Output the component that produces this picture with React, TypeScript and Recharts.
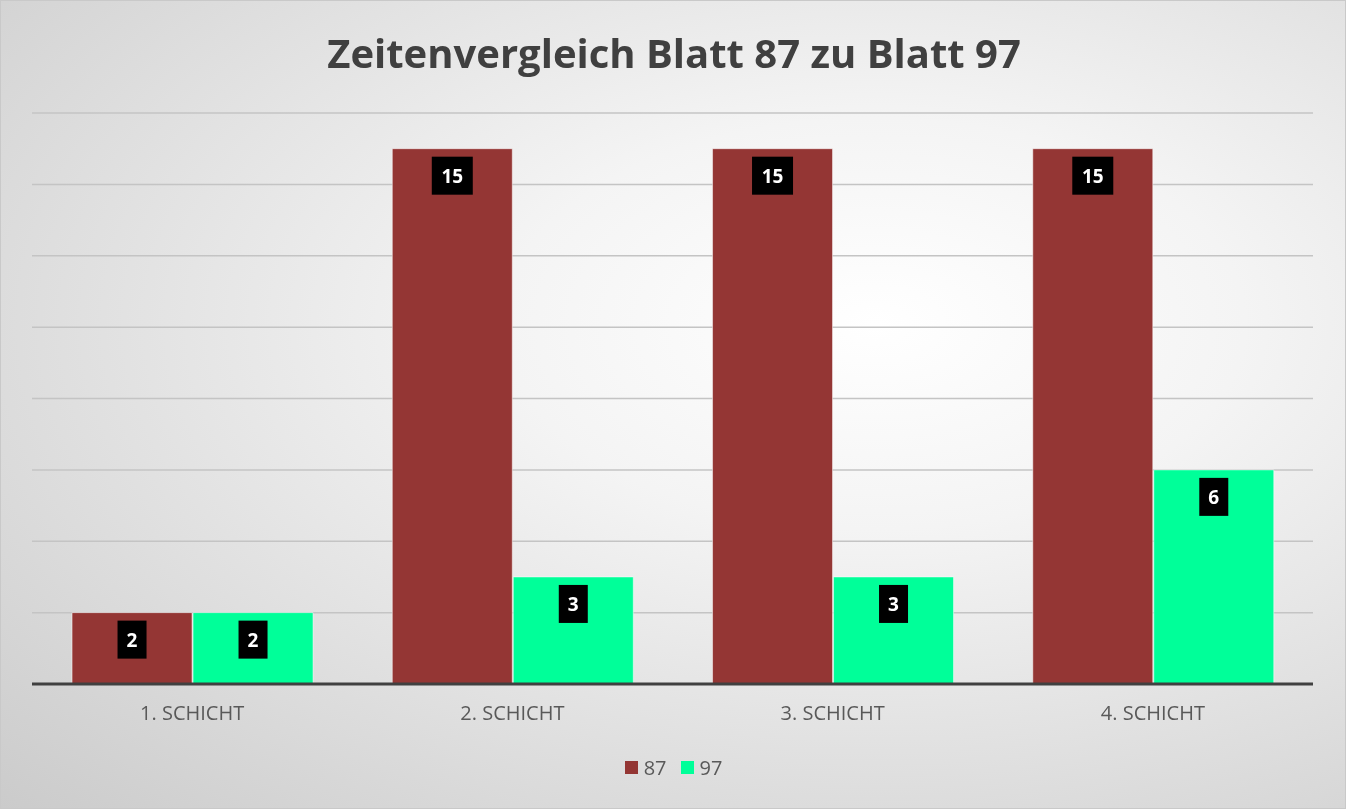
import { BarChart, Bar, XAxis, YAxis, CartesianGrid, Legend, LabelList } from "recharts"

const categories = ["1. SCHICHT", "2. SCHICHT", "3. SCHICHT", "4. SCHICHT"]
const blatt87 = [2, 15, 15, 15]
const blatt97 = [2, 3, 3, 6]
const yTicks = [0, 2, 4, 6, 8, 10, 12, 14, 16]

const data = categories.map((name, i) => ({ name, b87: blatt87[i], b97: blatt97[i] }))

const RED = "#943634"
const GREEN = "#00FF99"
const FONT = "'Open Sans', sans-serif"

const BoxLabel = (props: any) => {
  const { x, y, width, value } = props
  const text = String(value)
  const w = text.length > 1 ? 41 : 29
  const cx = x + width / 2
  const top = y + 8
  return (
    <g>
      <rect x={cx - w / 2} y={top} width={w} height={38} fill="#000" />
      <text x={cx} y={top + 26} textAnchor="middle" fill="#fff" fontFamily={FONT} fontWeight={700} fontSize={19}>
        {text}
      </text>
    </g>
  )
}

const LegendContent = () => (
  <div style={{ display: "flex", justifyContent: "center", gap: 14, fontFamily: FONT, fontSize: 20, color: "#595959", marginLeft: 2 }}>
    {[
      { label: "87", color: RED },
      { label: "97", color: GREEN },
    ].map((it) => (
      <div key={it.label} style={{ display: "flex", alignItems: "center", gap: 6 }}>
        <span style={{ width: 13, height: 13, background: it.color, display: "inline-block" }} />
        <span>{it.label}</span>
      </div>
    ))}
  </div>
)

export default function App() {
  return (
    <div
      style={{
        position: "fixed",
        left: 0,
        top: 0,
        width: 1346,
        height: 809,
        boxSizing: "border-box",
        border: "1px solid #c9c9c9",
        background: "radial-gradient(ellipse at 65% 40%, #ffffff 0%, #f4f4f4 30%, #cbcbcb 100%)",
      }}
    >
      <div
        style={{
          position: "absolute",
          top: 24,
          left: 0,
          width: 1346,
          textAlign: "center",
          fontFamily: FONT,
          fontWeight: 700,
          fontSize: 40,
          color: "#404040",
        }}
      >
        Zeitenvergleich Blatt 87 zu Blatt 97
      </div>
      <BarChart
        width={1346}
        height={809}
        data={data}
        margin={{ top: 113, right: 33, bottom: 0, left: 32 }}
        barCategoryGap="12.5%"
        barGap={1}
        style={{ position: "absolute", left: -1, top: -1 }}
      >
        <CartesianGrid vertical={false} stroke="#c4c4c4" strokeWidth={1.5} />
        <YAxis hide domain={[0, 16]} ticks={yTicks} />
        <XAxis
          dataKey="name"
          height={70}
          tickLine={false}
          axisLine={{ stroke: "#404040", strokeWidth: 3 }}
          tick={{ fill: "#595959", fontFamily: FONT, fontSize: 20 }}
          tickMargin={16}
        />
        <Legend verticalAlign="bottom" height={55} content={<LegendContent />} />
        <Bar dataKey="b87" name="87" fill={RED} stroke="#ffffff" strokeOpacity={0.5} isAnimationActive={false}>
          <LabelList dataKey="b87" content={<BoxLabel />} />
        </Bar>
        <Bar dataKey="b97" name="97" fill={GREEN} stroke="#ffffff" strokeOpacity={0.5} isAnimationActive={false}>
          <LabelList dataKey="b97" content={<BoxLabel />} />
        </Bar>
      </BarChart>
    </div>
  )
}
